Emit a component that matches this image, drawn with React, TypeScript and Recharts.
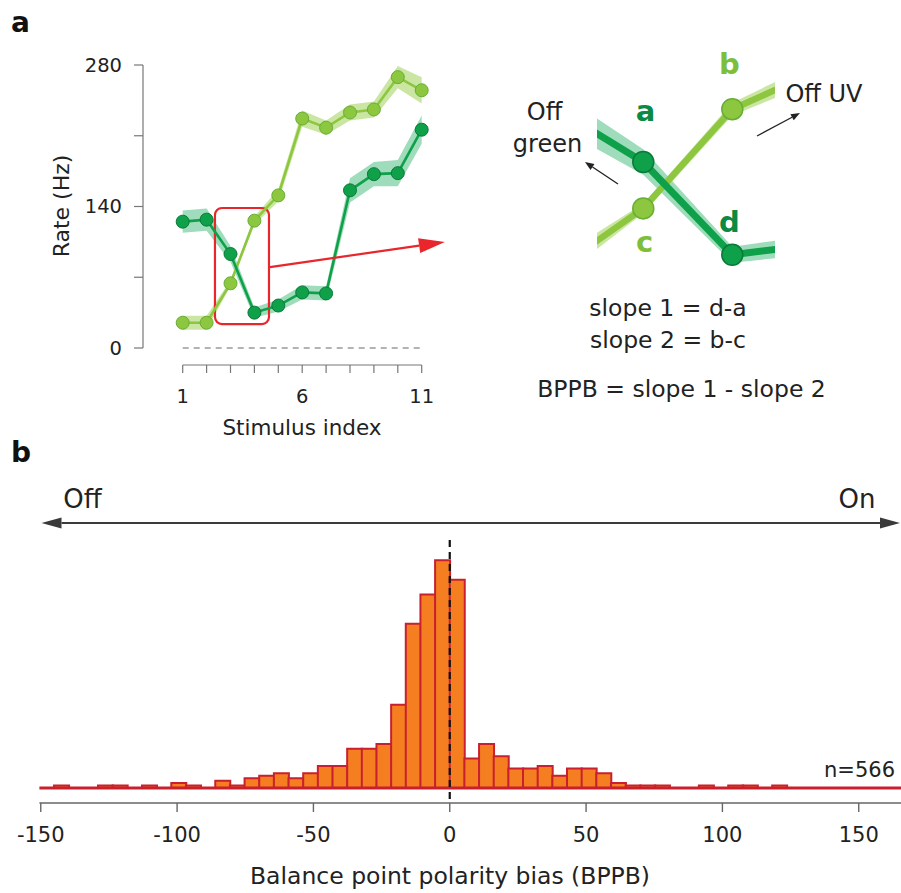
import React from 'react';
import {
  ComposedChart,
  BarChart,
  Bar,
  Line,
  Area,
  XAxis,
  YAxis,
  ReferenceLine,
  ReferenceArea,
} from 'recharts';

// ---------- Panel a data ----------
const stimulusIndex = [1, 2, 3, 4, 5, 6, 7, 8, 9, 10, 11];
const offUvRate = [25, 25, 64, 126, 151, 227, 218, 233, 236, 268, 255];
const offUvError = [7, 7, 3, 4, 6, 8, 7, 8, 8, 11, 13];
const offGreenRate = [125, 127, 93, 35, 42, 55, 54, 156, 172, 173, 216];
const offGreenError = [11, 11, 8, 5, 6, 7, 7, 12, 12, 13, 14];
const rateTicks = [0, 70, 140, 210, 280];
const rateTickLabels = ['0', '', '140', '', '280'];
const stimulusTickLabels = ['1', '', '', '', '', '6', '', '', '', '', '11'];

// ---------- Panel b data ----------
const bppbFirstEdge = -150.5;
const bppbBinWidth = 5.375;
const bppbCounts = [
  0, 1, 0, 0, 1, 1, 0, 1, 0, 2, 1, 0, 3, 1, 4, 5, 6, 4, 6, 9, 9, 16, 16, 18, 34, 67, 79, 93,
  85, 12, 18, 13, 8, 8, 9, 5, 8, 8, 6, 2, 1, 1, 1, 0, 0, 1, 0, 1, 1, 0, 1, 0, 0, 0, 0, 0, 0, 0, 0,
];
const bppbTicks = [-150, -100, -50, 0, 50, 100, 150];

const FONT = "'DejaVu Sans', 'Liberation Sans', sans-serif";

const DARK = '#0FA04A';
const DARK_EDGE = '#0B7A39';
const DARK_BAND = '#93D8B4';
const LIGHT = '#8DC63F';
const LIGHT_EDGE = '#67AE35';
const LIGHT_BAND = '#CBE6A3';
const RED = '#E8262B';
const BAR_FILL = '#F47E20';
const BAR_EDGE = '#C8202F';

const tableA = stimulusIndex.map((s, i) => ({
  stimulus: s,
  offUv: offUvRate[i],
  offGreen: offGreenRate[i],
  offUvBand: [offUvRate[i] - offUvError[i], offUvRate[i] + offUvError[i]],
  offGreenBand: [offGreenRate[i] - offGreenError[i], offGreenRate[i] + offGreenError[i]],
}));

const tableB = bppbCounts.map((c, i) => ({
  bppb: bppbFirstEdge + (i + 0.5) * bppbBinWidth,
  count: c,
}));

const RedArrow = (p: any) => {
  const { x1, y1, x2, y2 } = p;
  const ang = Math.atan2(y2 - y1, x2 - x1);
  const L = 26;
  const W = 7.5;
  const bx = x2 - L * Math.cos(ang);
  const by = y2 - L * Math.sin(ang);
  const px = -Math.sin(ang) * W;
  const py = Math.cos(ang) * W;
  return (
    <g>
      <line x1={x1} y1={y1} x2={bx} y2={by} stroke={RED} strokeWidth={2.2} />
      <polygon points={`${x2},${y2} ${bx + px},${by + py} ${bx - px},${by - py}`} fill={RED} />
    </g>
  );
};

const RoundedBox = (p: any) => (
  <rect x={p.x} y={p.y} width={p.width} height={p.height} rx={7} ry={7} fill="none" stroke={RED} strokeWidth={2.2} />
);

const arrowHead = (x1: number, y1: number, x2: number, y2: number, L: number, W: number) => {
  const ang = Math.atan2(y2 - y1, x2 - x1);
  const bx = x2 - L * Math.cos(ang);
  const by = y2 - L * Math.sin(ang);
  const px = -Math.sin(ang) * W;
  const py = Math.cos(ang) * W;
  return { bx, by, pts: `${x2},${y2} ${bx + px},${by + py} ${bx - px},${by - py}` };
};

const Arrow = ({ x1, y1, x2, y2, L, W, color, sw }: any) => {
  const h = arrowHead(x1, y1, x2, y2, L, W);
  return (
    <g>
      <line x1={x1} y1={y1} x2={h.bx} y2={h.by} stroke={color} strokeWidth={sw} />
      <polygon points={h.pts} fill={color} />
    </g>
  );
};

const abs: React.CSSProperties = { position: 'absolute', left: 0, top: 0 };

export default function App() {
  const leftHead = arrowHead(100, 523, 41.5, 523, 20, 5.5);
  const rightHead = arrowHead(800, 523, 900, 523, 20, 5.5);
  return (
    <div style={{ position: 'absolute', left: 0, top: 0, width: 901, height: 893, background: '#fff', overflow: 'hidden', fontFamily: FONT }}>
      {/* Panel a: main rate chart */}
      <div style={abs}>
        <ComposedChart width={450} height={450} data={tableA} margin={{ top: 65, right: 28.3, bottom: 102, left: 0 }}>
          <XAxis dataKey="stimulus" type="number" domain={[1, 11]} hide padding={{ left: 39.7, right: 0 }} />
          <YAxis
            type="number"
            domain={[0, 280]}
            ticks={rateTicks}
            interval={0}
            tickFormatter={(v: number) => rateTickLabels[rateTicks.indexOf(v)] ?? ''}
            width={143}
            tickSize={9}
            tickMargin={12}
            axisLine={{ stroke: '#777', strokeWidth: 1.2 }}
            tickLine={{ stroke: '#777', strokeWidth: 1.2 }}
            tick={{ fill: '#222', fontSize: 19.5, fontFamily: FONT }}
          />
          <ReferenceLine segment={[{ x: 1, y: 0 }, { x: 11, y: 0 }]} stroke="#9a9a9a" strokeDasharray="6 5" strokeWidth={1.3} />
          <Area dataKey="offUvBand" type="linear" fill={LIGHT_BAND} fillOpacity={1} stroke="none" isAnimationActive={false} />
          <Area dataKey="offGreenBand" type="linear" fill={DARK_BAND} fillOpacity={0.9} stroke="none" isAnimationActive={false} />
          <Line
            dataKey="offUv"
            type="linear"
            stroke={LIGHT}
            strokeWidth={2.6}
            dot={{ r: 6.5, fill: LIGHT, stroke: LIGHT_EDGE, strokeWidth: 1 }}
            isAnimationActive={false}
          />
          <Line
            dataKey="offGreen"
            type="linear"
            stroke={DARK}
            strokeWidth={2.6}
            dot={{ r: 6.5, fill: DARK, stroke: DARK_EDGE, strokeWidth: 1 }}
            isAnimationActive={false}
          />
          <ReferenceArea x1={2.35} x2={4.61} y1={23.7} y2={138.5} shape={RoundedBox} ifOverflow="visible" />
          <ReferenceLine
            segment={[{ x: 4.65, y: 80 }, { x: 11.97, y: 105 }]}
            ifOverflow="visible"
            shape={RedArrow}
          />
        </ComposedChart>
      </div>

      {/* Panel a: separate stimulus axis */}
      <div style={abs}>
        <ComposedChart width={450} height={450} data={tableA} margin={{ top: 300, right: 28.3, bottom: 25, left: 182.7 }}>
          <XAxis
            dataKey="stimulus"
            type="number"
            domain={[1, 11]}
            ticks={stimulusIndex}
            interval={0}
            tickFormatter={(v: number) => stimulusTickLabels[stimulusIndex.indexOf(v)] ?? ''}
            height={60}
            tickSize={8}
            tickMargin={16}
            axisLine={{ stroke: '#777', strokeWidth: 1.2 }}
            tickLine={{ stroke: '#777', strokeWidth: 1.2 }}
            tick={{ fill: '#222', fontSize: 19.5, fontFamily: FONT }}
          />
          <YAxis hide type="number" domain={[0, 280]} />
          <Line dataKey="offUv" stroke="none" dot={false} isAnimationActive={false} />
        </ComposedChart>
      </div>

      {/* Panel a: magnified schematic of stimuli 3-4 */}
      <div style={abs}>
        <ComposedChart width={901} height={400} data={tableA} margin={{ top: 70.8, right: 126, bottom: 105.2, left: 597 }}>
          <XAxis dataKey="stimulus" type="number" domain={[2.48, 4.48]} allowDataOverflow hide />
          <YAxis type="number" domain={[10, 150]} allowDataOverflow hide />
          <Area dataKey="offUvBand" type="linear" fill={LIGHT_BAND} fillOpacity={1} stroke="none" isAnimationActive={false} />
          <Area dataKey="offGreenBand" type="linear" fill={DARK_BAND} fillOpacity={0.9} stroke="none" isAnimationActive={false} />
          <Line
            dataKey="offUv"
            type="linear"
            stroke={LIGHT}
            strokeWidth={6.5}
            dot={{ r: 10.5, fill: LIGHT, stroke: LIGHT_EDGE, strokeWidth: 1.5 }}
            isAnimationActive={false}
          />
          <Line
            dataKey="offGreen"
            type="linear"
            stroke={DARK}
            strokeWidth={7}
            dot={{ r: 10.5, fill: DARK, stroke: DARK_EDGE, strokeWidth: 1.5 }}
            isAnimationActive={false}
          />
        </ComposedChart>
      </div>

      {/* Panel b: histogram */}
      <div style={abs}>
        <BarChart width={901} height={893} data={tableB} margin={{ top: 543, right: 0, bottom: 0, left: 39.4 }} barCategoryGap={0} barGap={0}>
          <XAxis
            dataKey="bppb"
            type="number"
            domain={[-150.5, 165.5]}
            allowDataOverflow
            ticks={bppbTicks}
            interval={0}
            height={90}
            tickSize={9}
            tickMargin={15}
            axisLine={{ stroke: '#666', strokeWidth: 1.4 }}
            tickLine={{ stroke: '#666', strokeWidth: 1.4 }}
            tick={{ fill: '#222', fontSize: 21, fontFamily: FONT }}
          />
          <YAxis hide type="number" domain={[-6.1224, 100]} allowDataOverflow />
          <ReferenceLine y={0} stroke={BAR_EDGE} strokeWidth={3} />
          <Bar dataKey="count" fill={BAR_FILL} stroke={BAR_EDGE} strokeWidth={2} isAnimationActive={false} />
          <ReferenceLine
            segment={[{ x: 0, y: 101.2 }, { x: 0, y: -4.9 }]}
            ifOverflow="visible"
            stroke="#111"
            strokeWidth={2.2}
            strokeDasharray="7 5"
          />
        </BarChart>
      </div>

      {/* Text and annotation overlay */}
      <svg width={901} height={893} style={{ ...abs, pointerEvents: 'none' }} fontFamily={FONT}>
        <text x={11} y={32} fontSize={28} fontWeight="bold" fill="#111">a</text>
        <text x={11} y={462} fontSize={28} fontWeight="bold" fill="#111">b</text>

        <text transform="translate(69,206) rotate(-90)" textAnchor="middle" fontSize={22} fill="#222">Rate (Hz)</text>
        <text x={302} y={435} textAnchor="middle" fontSize={21.5} fill="#222">Stimulus index</text>

        <text x={645.5} y={121} textAnchor="middle" fontSize={29} fontWeight="bold" fill="#0B8A43">a</text>
        <text x={729.5} y={74} textAnchor="middle" fontSize={29} fontWeight="bold" fill="#7DBE3A">b</text>
        <text x={644.5} y={252} textAnchor="middle" fontSize={29} fontWeight="bold" fill="#7DBE3A">c</text>
        <text x={729.5} y={232} textAnchor="middle" fontSize={29} fontWeight="bold" fill="#0B8A43">d</text>

        <text x={544.5} y={120} textAnchor="middle" fontSize={24} fill="#222">Off</text>
        <text x={547.5} y={152} textAnchor="middle" fontSize={24} fill="#222">green</text>
        <text x={824} y={102} textAnchor="middle" fontSize={24} fill="#222">Off UV</text>
        <Arrow x1={618} y1={184} x2={585} y2={162} L={9} W={3.5} color="#222" sw={1.3} />
        <Arrow x1={757} y1={136} x2={800} y2={113} L={9} W={3.5} color="#222" sw={1.3} />

        <text x={668} y={316} textAnchor="middle" fontSize={23.5} fill="#222">slope 1 = d-a</text>
        <text x={668} y={348} textAnchor="middle" fontSize={23.5} fill="#222">slope 2 = b-c</text>
        <text x={681.5} y={397} textAnchor="middle" fontSize={23.5} fill="#222">BPPB = slope 1 - slope 2</text>

        <line x1={leftHead.bx} y1={523} x2={rightHead.bx} y2={523} stroke="#3a3a3a" strokeWidth={1.8} />
        <polygon points={leftHead.pts} fill="#3a3a3a" />
        <polygon points={rightHead.pts} fill="#3a3a3a" />
        <text x={82.5} y={508} textAnchor="middle" fontSize={26} fill="#222">Off</text>
        <text x={857} y={508} textAnchor="middle" fontSize={26} fill="#222">On</text>

        <text x={895} y={777} textAnchor="end" fontSize={21} fill="#222">n=566</text>
        <text x={450} y={884} textAnchor="middle" fontSize={23.5} fill="#222">Balance point polarity bias (BPPB)</text>
      </svg>
    </div>
  );
}
